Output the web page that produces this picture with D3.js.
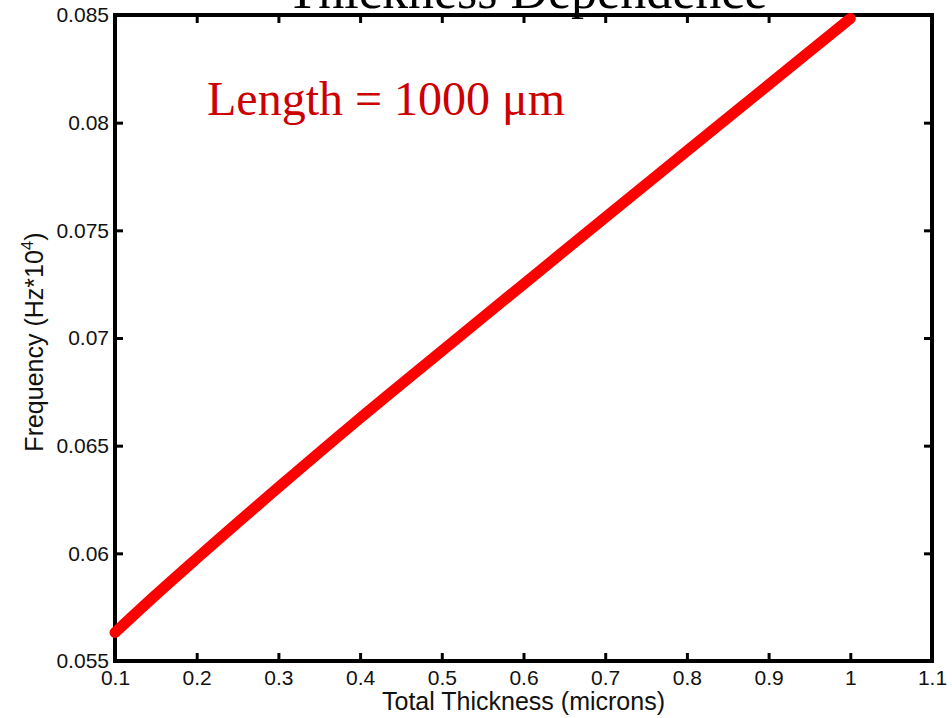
<!DOCTYPE html>
<html>
<head>
<meta charset="utf-8">
<script src="https://cdn.jsdelivr.net/npm/d3@7"></script>
<style>
  body { margin: 0; background: #fff; }
  svg { display: block; }
</style>
</head>
<body>
<svg id="chart"></svg>
<script>
// thickness (microns) vs frequency (Hz*10^4)
const thickness = [0.1, 0.15, 0.2, 0.3, 0.4, 0.5, 0.6, 0.7, 0.8, 0.9, 1.0];
const frequency = [0.05632, 0.05807, 0.05976, 0.06306, 0.06628, 0.0694, 0.0725, 0.0756, 0.07868, 0.08176, 0.08484];
const xTicks = [0.1, 0.2, 0.3, 0.4, 0.5, 0.6, 0.7, 0.8, 0.9, 1, 1.1];
const yTicks = [0.055, 0.06, 0.065, 0.07, 0.075, 0.08, 0.085];

const W = 952, H = 718;
const m = {top: 15, right: 20, bottom: 57, left: 115};
const w = W - m.left - m.right;
const h = H - m.top - m.bottom;

const svg = d3.select('#chart')
    .attr('width', W)
    .attr('height', H);

const g = svg.append('g')
    .attr('transform', `translate(${m.left},${m.top})`);

const x = d3.scaleLinear().domain([0.1, 1.1]).range([0, w]);
const y = d3.scaleLinear().domain([0.055, 0.085]).range([h, 0]);

const fmt = d => String(+d.toFixed(3));

// axes, ticks pointing inward
const xAxis = d3.axisBottom(x).tickValues(xTicks).tickFormat(fmt).tickSizeInner(-8).tickSizeOuter(0).tickPadding(9);
const xTop = d3.axisTop(x).tickValues(xTicks).tickFormat('').tickSizeInner(-8).tickSizeOuter(0);
const yAxis = d3.axisLeft(y).tickValues(yTicks).tickFormat(fmt).tickSizeInner(-8).tickSizeOuter(0).tickPadding(6);
const yRight = d3.axisRight(y).tickValues(yTicks).tickFormat('').tickSizeInner(-8).tickSizeOuter(0);

g.append('g').attr('class', 'axis').attr('transform', `translate(0,${h})`).call(xAxis);
g.append('g').attr('class', 'axis').call(xTop);
g.append('g').attr('class', 'axis').call(yAxis);
g.append('g').attr('class', 'axis').attr('transform', `translate(${w},0)`).call(yRight);

g.selectAll('.axis .domain').remove();
g.selectAll('.axis line').attr('stroke', '#000').attr('stroke-width', 3);
g.selectAll('.axis text')
    .attr('fill', '#111')
    .style('font-family', '"Liberation Sans", Arial, sans-serif')
    .style('font-size', '21px');

// frame
g.append('rect')
    .attr('width', w)
    .attr('height', h)
    .attr('fill', 'none')
    .attr('stroke', '#000')
    .attr('stroke-width', 4);

// data line
const pts = thickness.map((t, i) => [t, frequency[i]]);
g.append('path')
    .datum(pts)
    .attr('fill', 'none')
    .attr('stroke', '#ff0000')
    .attr('stroke-width', 11)
    .attr('stroke-linecap', 'round')
    .attr('stroke-linejoin', 'round')
    .attr('d', d3.line().x(d => x(d[0])).y(d => y(d[1])).curve(d3.curveMonotoneX));

// labels
svg.append('text')
    .attr('x', m.left + w / 2)
    .attr('y', 710)
    .attr('text-anchor', 'middle')
    .attr('fill', '#111')
    .style('font-family', '"Liberation Sans", Arial, sans-serif')
    .style('font-size', '25px')
    .text('Total Thickness (microns)');

const yl = svg.append('text')
    .attr('transform', `translate(43,${m.top + h / 2 + 4}) rotate(-90)`)
    .attr('text-anchor', 'middle')
    .attr('fill', '#111')
    .style('font-family', '"Liberation Sans", Arial, sans-serif')
    .style('font-size', '25px');
yl.append('tspan').text('Frequency (Hz*10');
yl.append('tspan').attr('dy', -10).style('font-size', '17px').text('4');
yl.append('tspan').attr('dy', 10).text(')');

svg.append('text')
    .attr('x', 527)
    .attr('y', 8)
    .attr('text-anchor', 'middle')
    .attr('fill', '#000')
    .style('font-family', '"Liberation Serif", "Times New Roman", serif')
    .style('font-size', '52px')
    .text('Thickness Dependence');

svg.append('text')
    .attr('x', 207)
    .attr('y', 115)
    .attr('fill', '#cc0000')
    .style('font-family', '"Liberation Serif", "Times New Roman", serif')
    .style('font-size', '48px')
    .text('Length = 1000 \u03bcm');
</script>
</body>
</html>
